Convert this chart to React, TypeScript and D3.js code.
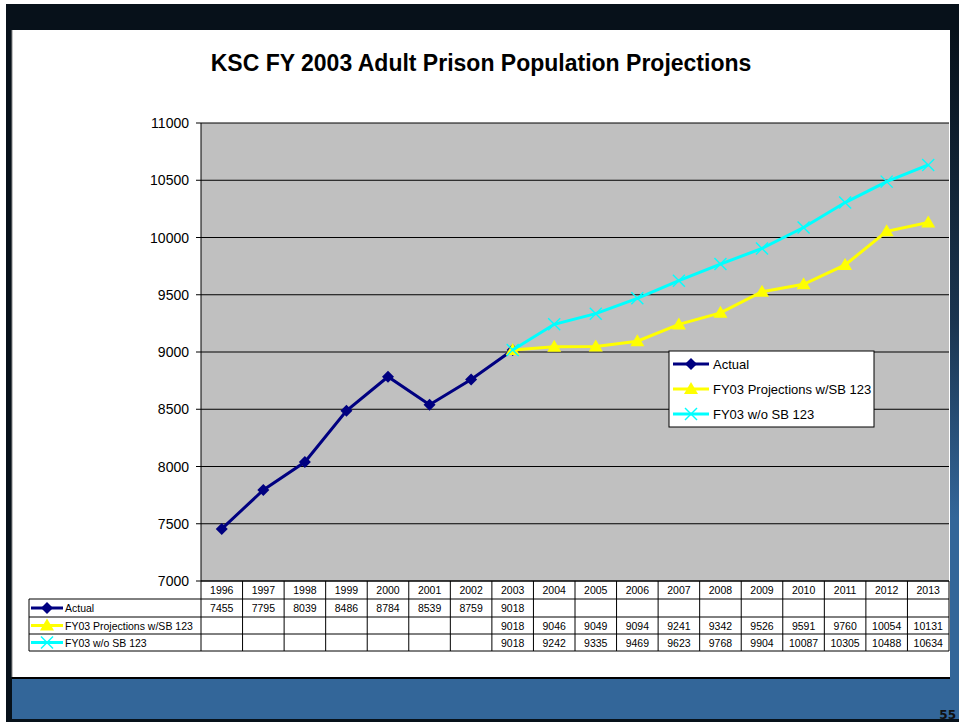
import * as d3 from "d3";

const years = ["1996", "1997", "1998", "1999", "2000", "2001", "2002", "2003", "2004", "2005", "2006", "2007", "2008", "2009", "2010", "2011", "2012", "2013"];
const actual = [7455, 7795, 8039, 8486, 8784, 8539, 8759, 9018];
const projSB = [9018, 9046, 9049, 9094, 9241, 9342, 9526, 9591, 9760, 10054, 10131];
const noSB = [9018, 9242, 9335, 9469, 9623, 9768, 9904, 10087, 10305, 10488, 10634];
const yTicks = [7000, 7500, 8000, 8500, 9000, 9500, 10000, 10500, 11000];

const series = [
  { name: "Actual", values: actual, start: "1996", color: "#000080", marker: "diamond" },
  { name: "FY03 Projections w/SB 123", values: projSB, start: "2003", color: "#ffff00", marker: "triangle" },
  { name: "FY03 w/o SB 123", values: noSB, start: "2003", color: "#00ffff", marker: "x" },
];

const FONT = "'Liberation Sans', Arial, sans-serif";

function Marker({ kind, color, cx, cy }: { kind: string; color: string; cx: number; cy: number }) {
  if (kind === "diamond") {
    return <path d={`M${cx},${cy - 6}L${cx + 6},${cy}L${cx},${cy + 6}L${cx - 6},${cy}Z`} fill={color} />;
  }
  if (kind === "triangle") {
    return <path d={`M${cx},${cy - 7}L${cx + 7},${cy + 5}L${cx - 7},${cy + 5}Z`} fill={color} />;
  }
  return (
    <g stroke={color} strokeWidth={1.4}>
      <line x1={cx - 6} y1={cy - 6} x2={cx + 6} y2={cy + 6} />
      <line x1={cx - 6} y1={cy + 6} x2={cx + 6} y2={cy - 6} />
    </g>
  );
}

export default function App() {
  const width = 959;
  const height = 725;
  const plot = { left: 201, right: 949, top: 123, bottom: 581 };

  const x = d3.scaleBand().domain(years).range([plot.left, plot.right]);
  const y = d3.scaleLinear().domain([7000, 11000]).range([plot.bottom, plot.top]);
  const cx = (yr: string) => (x(yr) as number) + x.bandwidth() / 2;

  const rows = [581, 599, 617, 634, 651];
  const line = d3
    .line<{ yr: string; v: number }>()
    .x((d) => cx(d.yr))
    .y((d) => y(d.v));

  const pts = series.map((s) => {
    const i0 = years.indexOf(s.start);
    return s.values.map((v, i) => ({ yr: years[i0 + i], v }));
  });

  return (
    <svg width={width} height={height} style={{ position: "absolute", left: 0, top: 0 }} fontFamily={FONT}>
      <defs>
        <linearGradient id="rgrad" x1="0" y1="0" x2="0" y2="1">
          <stop offset="0" stopColor="#07111a" />
          <stop offset="0.45" stopColor="#1b3550" />
          <stop offset="0.75" stopColor="#336699" />
          <stop offset="1" stopColor="#336699" />
        </linearGradient>
      </defs>
      <rect width={width} height={height} fill="#ffffff" />
      {/* frame */}
      <rect x={6} y={4} width={953} height={26} fill="#07111a" />
      <rect x={6} y={4} width={6} height={718} fill="#07111a" />
      <rect x={950} y={30} width={9} height={650} fill="url(#rgrad)" />
      <rect x={12} y={679} width={947} height={41} fill="#336699" />
      <rect x={6} y={719} width={953} height={3} fill="#07111a" />
      <rect x={12} y={677} width={938} height={2} fill="#000000" />
      <line x1={12} x2={12} y1={30} y2={677} stroke="#888" />
      <text x={956} y={719} textAnchor="end" fontSize={12} fontWeight="bold" fill="#111" fontFamily="'DejaVu Sans', sans-serif">55</text>

      <text x={481} y={71} textAnchor="middle" fontSize={23} fontWeight="bold" fill="#000">
        KSC FY 2003 Adult Prison Population Projections
      </text>

      {/* plot area */}
      <rect x={plot.left} y={plot.top} width={plot.right - plot.left} height={plot.bottom - plot.top} fill="#c0c0c0" />
      {yTicks.map((t) => (
        <g key={t}>
          <line x1={plot.left} x2={plot.right} y1={y(t)} y2={y(t)} stroke="#000" strokeWidth={1} />
          <line x1={plot.left - 5} x2={plot.left} y1={y(t)} y2={y(t)} stroke="#000" />
          <text x={189} y={y(t) + 5} textAnchor="end" fontSize={14} fill="#000">
            {t}
          </text>
        </g>
      ))}
      <line x1={plot.left} x2={plot.left} y1={plot.top} y2={plot.bottom} stroke="#000" />

      {series.map((s, k) => (
        <g key={s.name}>
          <path d={line(pts[k]) as string} fill="none" stroke={s.color} strokeWidth={3} />
          {pts[k].map((p) => (
            <Marker key={p.yr} kind={s.marker} color={s.color} cx={cx(p.yr)} cy={y(p.v)} />
          ))}
        </g>
      ))}

      {/* legend */}
      <rect x={669} y={351} width={205} height={76} fill="#fff" stroke="#000" />
      {series.map((s, k) => {
        const ly = 364 + k * 25;
        return (
          <g key={s.name}>
            <line x1={673} x2={709} y1={ly} y2={ly} stroke={s.color} strokeWidth={3} />
            <Marker kind={s.marker} color={s.color} cx={691} cy={ly} />
            <text x={713} y={ly + 5} fontSize={13} fill="#000">
              {s.name}
            </text>
          </g>
        );
      })}

      {/* data table */}
      <g fontSize={10.5} fill="#000">
        {years.map((yr) => (
          <text key={yr} x={cx(yr)} y={594} textAnchor="middle">
            {yr}
          </text>
        ))}
        {series.map((s, k) => {
          const i0 = years.indexOf(s.start);
          const ry = rows[k + 1];
          const mid = (ry + rows[k + 2]) / 2;
          return (
            <g key={s.name}>
              <line x1={31} x2={63} y1={mid} y2={mid} stroke={s.color} strokeWidth={3} />
              <Marker kind={s.marker} color={s.color} cx={47} cy={mid} />
              <text x={65} y={mid + 4}>{s.name}</text>
              {s.values.map((v, i) => (
                <text key={i} x={cx(years[i0 + i])} y={mid + 4} textAnchor="middle">
                  {v}
                </text>
              ))}
            </g>
          );
        })}
      </g>
      <g stroke="#000" strokeWidth={1} fill="none">
        <line x1={plot.left} x2={plot.right} y1={rows[0]} y2={rows[0]} />
        {rows.slice(1).map((r) => (
          <line key={r} x1={29} x2={plot.right} y1={r} y2={r} />
        ))}
        <line x1={29} x2={29} y1={rows[1]} y2={rows[4]} />
        {years.map((yr) => (
          <line key={yr} x1={x(yr) as number} x2={x(yr) as number} y1={rows[0]} y2={rows[4]} />
        ))}
        <line x1={plot.right} x2={plot.right} y1={rows[0]} y2={rows[4]} />
      </g>
    </svg>
  );
}
